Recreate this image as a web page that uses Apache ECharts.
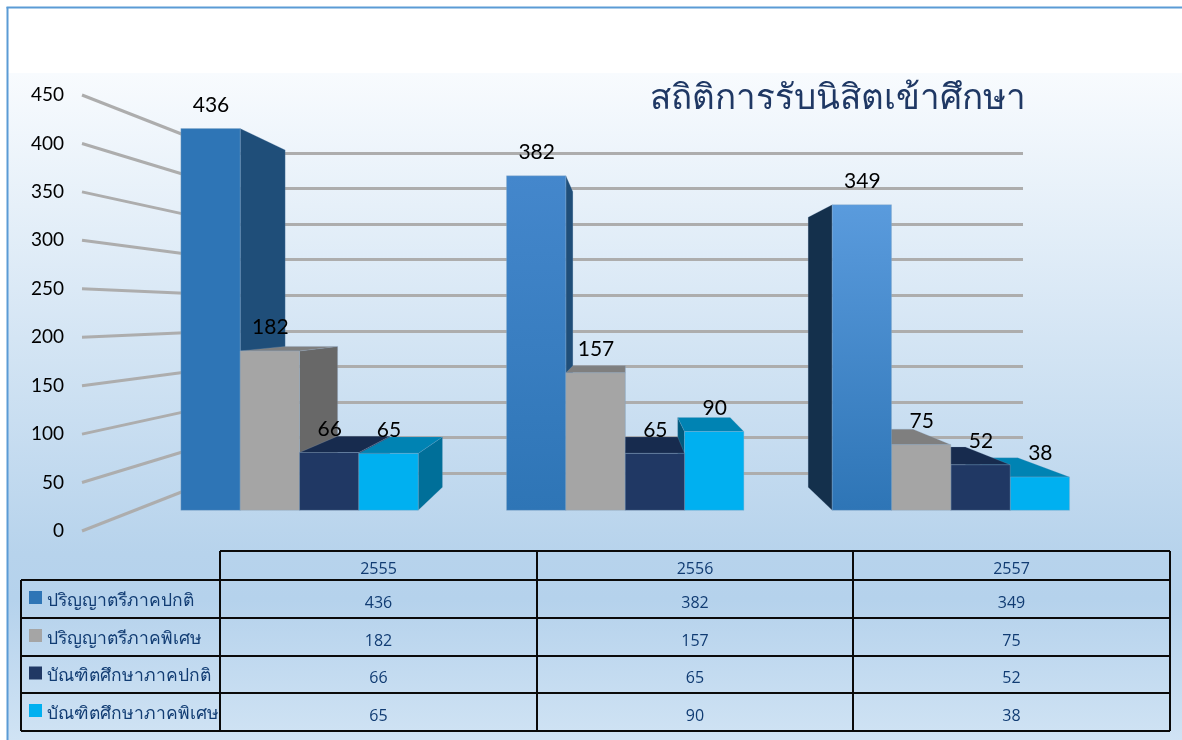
<!DOCTYPE html>
<html>
<head>
<meta charset="utf-8">
<style>html,body{margin:0;padding:0;background:#fff}#c{width:1182px;height:740px}</style>
<script src="https://cdn.jsdelivr.net/npm/echarts@6/dist/echarts.min.js"></script>
</head>
<body>
<div id="c"></div>
<script>
// ---- data ----
const years = ['2555', '2556', '2557'];
const seriesNames = ['ปริญญาตรีภาคปกติ', 'ปริญญาตรีภาคพิเศษ', 'บัณฑิตศึกษาภาคปกติ', 'บัณฑิตศึกษาภาคพิเศษ'];
const regular = [436, 382, 349];
const special = [182, 157, 75];
const gradRegular = [66, 65, 52];
const gradSpecial = [65, 90, 38];
const axisTicks = [0, 50, 100, 150, 200, 250, 300, 350, 400, 450];
const titleText = 'สถิติการรับนิสิตเข้าศึกษา';

// ---- styles ----
const allValues = [regular, special, gradRegular, gradSpecial];
const frontColors = ['#2e75b6', '#a5a5a5', '#203864', '#00b0f0'];
const sideColors = ['#1f4e79', '#686868', '#172b4e', '#006f99'];
const leftColors = ['#14304c', '#555555', '#14284a', '#005a7e'];
const topColors = ['#1f4e79', '#7f7f7f', '#172b4e', '#0083b3'];
const blueTops = ['#2e75b6', '#4487cc', '#5a9bdd'];
const VP = [626, 312], DEPTH = 0.1166, BAR_FRAC = 0.1822;
const numFont = '"Open Sans","Noto Sans",sans-serif';
const thaiFont = '"Noto Sans","DejaVu Sans",sans-serif';
const textBlue = '#113c73';

const back = p => [p[0] + DEPTH * (VP[0] - p[0]), p[1] + DEPTH * (VP[1] - p[1])];
const poly = (pts, fill, z2) => ({type: 'polygon', shape: {points: pts}, style: {fill, stroke: 'rgba(140,170,200,0.35)', lineWidth: 0.6}, z2});

function barItem(si) {
  return function (params, api) {
    const cat = api.value(0), val = api.value(1);
    const base = api.coord([cat, 0]), top = api.coord([cat, val]);
    const band = api.size([1, 0])[0], w = band * BAR_FRAC;
    const x0 = base[0] - 2 * w + si * w, x1 = x0 + w, y0 = top[1], y1 = base[1];
    const z = 1000 - Math.abs((x0 + x1) / 2 - VP[0]);
    const kids = [];
    if (x1 < VP[0]) {
      kids.push(poly([[x1, y0], back([x1, y0]), back([x1, y1]), [x1, y1]], sideColors[si], z));
    }
    if (x0 > VP[0]) {
      kids.push(poly([[x0, y0], back([x0, y0]), back([x0, y1]), [x0, y1]], leftColors[si], z));
    }
    if (y0 > VP[1]) {
      kids.push(poly([[x0, y0], [x1, y0], back([x1, y0]), back([x0, y0])], topColors[si], z + 0.1));
    }
    const fill = si === 0
      ? {type: 'linear', x: 0, y: 0, x2: 0, y2: 1, colorStops: [{offset: 0, color: blueTops[cat]}, {offset: 1, color: frontColors[0]}]}
      : frontColors[si];
    kids.push({type: 'rect', shape: {x: x0, y: y0, width: w, height: y1 - y0},
      style: {fill, stroke: 'rgba(140,170,200,0.45)', lineWidth: 0.8}, z2: z + 0.2});
    kids.push({type: 'text', z2: 5000, style: {x: (x0 + x1) / 2 + 0.5, y: y0 - 23.5, text: String(val),
      textAlign: 'center', textVerticalAlign: 'middle', verticalAlign: 'middle', fill: '#000', font: '21px Lato'}});
    return {type: 'group', children: kids};
  };
}

function wallItem(params, api) {
  const v = api.value(0);
  const a = api.coord([0, v]), b = api.coord([1, v]);
  const farY = chart.convertToPixel({yAxisIndex: 2}, v);
  return {type: 'group', children: [
    {type: 'line', shape: {x1: a[0], y1: a[1], x2: b[0], y2: farY}, style: {stroke: '#adadad', lineWidth: 3}}
  ]};
}

// ---- table + frame (layout only; text comes from the arrays) ----
const colX = [21, 220, 537, 853, 1170];
const rowY = [551, 580, 618, 656, 693, 731];
const g = [];
g.push({type: 'rect', z: -10, shape: {x: 0, y: 0, width: 1182, height: 740}, style: {fill: '#fff'}, silent: true});
g.push({type: 'rect', z: -9, shape: {x: 8, y: 73, width: 1174, height: 667}, silent: true, style: {fill: {type: 'linear', x: 0, y: 0, x2: 0, y2: 1, colorStops: [
  {offset: 0, color: '#f8fbfe'}, {offset: 0.72, color: '#b7d3ec'}, {offset: 0.79, color: '#b5d2ec'}, {offset: 1, color: '#d0e3f4'}]}}});
g.push({type: 'line', z: -8, shape: {x1: 7.5, y1: 7, x2: 7.5, y2: 740}, style: {stroke: '#5b9bd5', lineWidth: 2}});
g.push({type: 'line', z: -8, shape: {x1: 6.5, y1: 7.5, x2: 1182, y2: 7.5}, style: {stroke: '#5b9bd5', lineWidth: 2}});
const L = (x1, y1, x2, y2) => ({type: 'line', shape: {x1, y1, x2, y2}, style: {stroke: '#0a0a0a', lineWidth: 2}});
g.push(L(colX[1], rowY[0], colX[4], rowY[0]));
for (let r = 1; r < rowY.length; r++) g.push(L(colX[0], rowY[r], colX[4], rowY[r]));
g.push(L(colX[0], rowY[1], colX[0], rowY[5]));
for (let c = 1; c < colX.length; c++) g.push(L(colX[c], rowY[0], colX[c], rowY[5]));
const T = (x, y, text, font, align) => ({type: 'text', style: {x, y, text, font, fill: textBlue, textAlign: align, textVerticalAlign: 'middle', verticalAlign: 'middle'}});
years.forEach((yr, c) => {
  const cx = (colX[c + 1] + colX[c + 2]) / 2;
  g.push(T(cx, 569, yr, '500 16px ' + numFont, 'center'));
  allValues.forEach((vals, r) => g.push(T(cx, (rowY[r + 1] + rowY[r + 2]) / 2 + 4, String(vals[c]), '500 16px ' + numFont, 'center')));
});
seriesNames.forEach((nm, r) => {
  const cy = (rowY[r + 1] + rowY[r + 2]) / 2;
  g.push({type: 'rect', shape: {x: 29, y: cy - 8, width: 13, height: 13}, style: {fill: frontColors[r]}});
  g.push(T(47, cy + 2, nm, '17.5px ' + thaiFont, 'left'));
});
g.push({type: 'text', style: {x: 838, y: 99, text: titleText, font: '35px ' + thaiFont, fill: '#1f3864', textAlign: 'center', textVerticalAlign: 'middle', verticalAlign: 'middle'}});

const chart = echarts.init(document.getElementById('c'), null, {renderer: 'canvas'});
const hiddenY = (i) => ({type: 'value', gridIndex: i, min: 0, max: 450, interval: 50, show: false});
chart.setOption({
  animation: false,
  graphic: {elements: g},
  grid: [
    {left: 136.7, width: 977, top: 116.3, height: 394},   // bars (front plane)
    {left: 82, width: 148, top: 95, height: 436},         // side wall (near edge carries the labels)
    {left: 230, width: 793, top: 153, height: 320}        // back wall
  ],
  xAxis: [
    {type: 'category', gridIndex: 0, data: years, show: false},
    {type: 'value', gridIndex: 1, min: 0, max: 1, show: false},
    {type: 'category', gridIndex: 2, data: years, show: false}
  ],
  yAxis: [
    hiddenY(0),
    {type: 'value', gridIndex: 1, min: 0, max: 450, interval: 50,
      axisLine: {show: false}, axisTick: {show: false}, splitLine: {show: false},
      axisLabel: {margin: 18, color: '#000', fontSize: 19, fontFamily: 'Lato', padding: [2, 0, 0, 0]}},
    {type: 'value', gridIndex: 2, min: 0, max: 450, interval: 50,
      axisLine: {show: false}, axisTick: {show: false}, axisLabel: {show: false},
      splitLine: {show: true, lineStyle: {color: '#adadad', width: 3}}}
  ],
  series: [
    {type: 'custom', name: 'wall', xAxisIndex: 1, yAxisIndex: 1, z: 1, silent: true, clip: false,
      data: axisTicks.map(v => [v]), encode: {y: 0}, renderItem: wallItem},
    ...seriesNames.map((nm, si) => ({
      type: 'custom', name: nm, xAxisIndex: 0, yAxisIndex: 0, z: 2, silent: true, clip: false,
      data: allValues[si].map((v, i) => [i, v]), encode: {x: 0, y: 1}, renderItem: barItem(si)
    }))
  ]
});
</script>
</body>
</html>
